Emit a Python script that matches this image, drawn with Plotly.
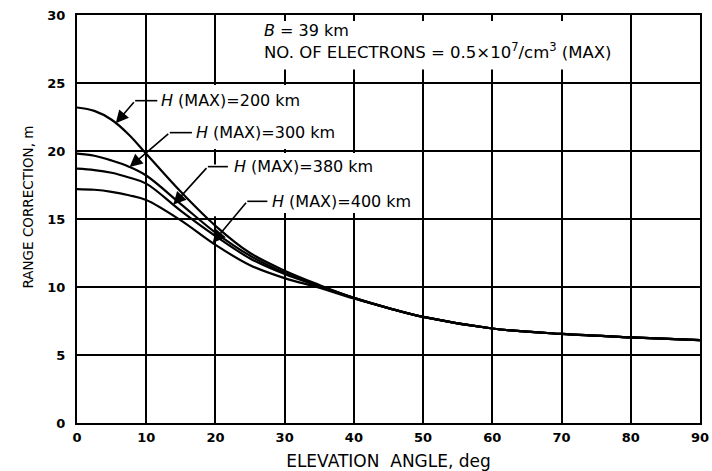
import plotly.graph_objects as go
import numpy as np

# ---- data ----
elev = [0, 2.5, 5, 7.5, 10, 15, 20, 25, 30, 35, 40, 45, 50, 60, 70, 80, 90]
tail = [8.45, 7.8, 6.95, 6.55, 6.3, 6.1]
rc_200 = [23.2, 22.95, 22.3, 21.2, 19.8, 17.0, 14.5, 12.5, 11.2, 10.15, 9.2] + tail
rc_300 = [19.8, 19.65, 19.3, 18.85, 18.2, 16.1, 14.0, 12.3, 11.05, 10.1, 9.2] + tail
rc_380 = [18.7, 18.6, 18.4, 18.05, 17.6, 15.6, 13.75, 12.1, 10.95, 10.05, 9.2] + tail
rc_400 = [17.2, 17.15, 17.0, 16.75, 16.4, 14.9, 13.1, 11.6, 10.65, 9.95, 9.15] + tail

series_names = ["H (MAX)=200 km", "H (MAX)=300 km", "H (MAX)=380 km", "H (MAX)=400 km"]
series_vals = [rc_200, rc_300, rc_380, rc_400]
label_texts = ["<i>H</i> (MAX)=200 km", "<i>H</i> (MAX)=300 km",
               "<i>H</i> (MAX)=380 km", "<i>H</i> (MAX)=400 km"]
# label placement: text x, text y, elbow x, horizontal-end x, arrow-tip x
label_pos = [
    (11.9, 23.7, 8.4, 11.6, 5.6),
    (16.9, 21.35, 13.4, 16.6, 7.6),
    (22.4, 18.85, 18.9, 21.8, 13.9),
    (27.9, 16.3, 24.6, 27.5, 19.6),
]
x_ticks = list(range(0, 91, 10))
y_ticks = list(range(0, 31, 5))

FONT = "DejaVu Sans"

fig = go.Figure()
for name, vals in zip(series_names, series_vals):
    fig.add_trace(go.Scatter(x=elev, y=vals, mode="lines", name=name,
                             line=dict(color="black", width=2.2, shape="spline", smoothing=1.0),
                             showlegend=False))

# white blanking areas that interrupt the grid behind the lettering
blanks = [(25.5, 78.5, 26.0, 29.55), (15.0, 38.5, 20.15, 24.85),
          (21.0, 49.0, 15.45, 19.85), (18.0, 21.0, 15.2, 19.0)]
for x0, x1, y0, y1 in blanks:
    fig.add_shape(type="rect", x0=x0, x1=x1, y0=y0, y1=y1, xref="x", yref="y",
                  fillcolor="white", line=dict(width=0), layer="between")

for txt, vals, (tx, ty, ex, hx, px) in zip(label_texts, series_vals, label_pos):
    tip_y = float(np.interp(px, elev, vals))
    fig.add_annotation(x=tx, y=ty, xref="x", yref="y", text=txt, showarrow=False,
                       xanchor="left", yanchor="middle",
                       font=dict(family=FONT, size=16, color="black"))
    fig.add_shape(type="line", x0=ex, x1=hx, y0=ty, y1=ty, xref="x", yref="y",
                  line=dict(color="black", width=1.6))
    fig.add_annotation(x=px, y=tip_y, ax=ex, ay=ty, xref="x", yref="y",
                       axref="x", ayref="y", text="", showarrow=True,
                       arrowhead=2, arrowsize=1.6, arrowwidth=1.6, arrowcolor="black",
                       standoff=0)

fig.add_annotation(x=26.7, y=28.85, xref="x", yref="y", xanchor="left", yanchor="middle",
                   text="<i>B</i> = 39 km", showarrow=False,
                   font=dict(family=FONT, size=16, color="black"))
fig.add_annotation(x=26.7, y=27.35, xref="x", yref="y", xanchor="left", yanchor="middle",
                   text="NO. OF ELECTRONS = 0.5×10<sup>7</sup>/cm<sup>3</sup> (MAX)",
                   showarrow=False, font=dict(family=FONT, size=16.5, color="black"))

# y-axis title (placed slightly above plot centre, as in the reference)
fig.add_annotation(x=-0.079, y=0.53, xref="paper", yref="paper", xanchor="center",
                   yanchor="middle", textangle=-90, showarrow=False,
                   text="RANGE CORRECTION, m",
                   font=dict(family=FONT, size=13.5, color="black"))

axis_common = dict(showline=True, mirror=True, linecolor="black", linewidth=2,
                   showgrid=True, gridcolor="black", gridwidth=1.5, zeroline=False,
                   automargin=False,
                   ticks="", tickfont=dict(family=FONT, size=13, color="black", weight="bold"))

fig.update_xaxes(range=[0, 90], tickvals=x_ticks, ticktext=[str(v) for v in x_ticks],
                 title=dict(text="ELEVATION  ANGLE, deg", standoff=16,
                            font=dict(family=FONT, size=17, color="black")),
                 ticklabelstandoff=1, **axis_common)
fig.update_yaxes(range=[0, 30], tickvals=y_ticks, ticktext=[str(v) for v in y_ticks],
                 ticklabelstandoff=7, **axis_common)

fig.update_layout(width=712, height=471, margin=dict(l=77, r=12, t=15, b=48),
                  plot_bgcolor="white", paper_bgcolor="white")

fig.write_html("out.html")
